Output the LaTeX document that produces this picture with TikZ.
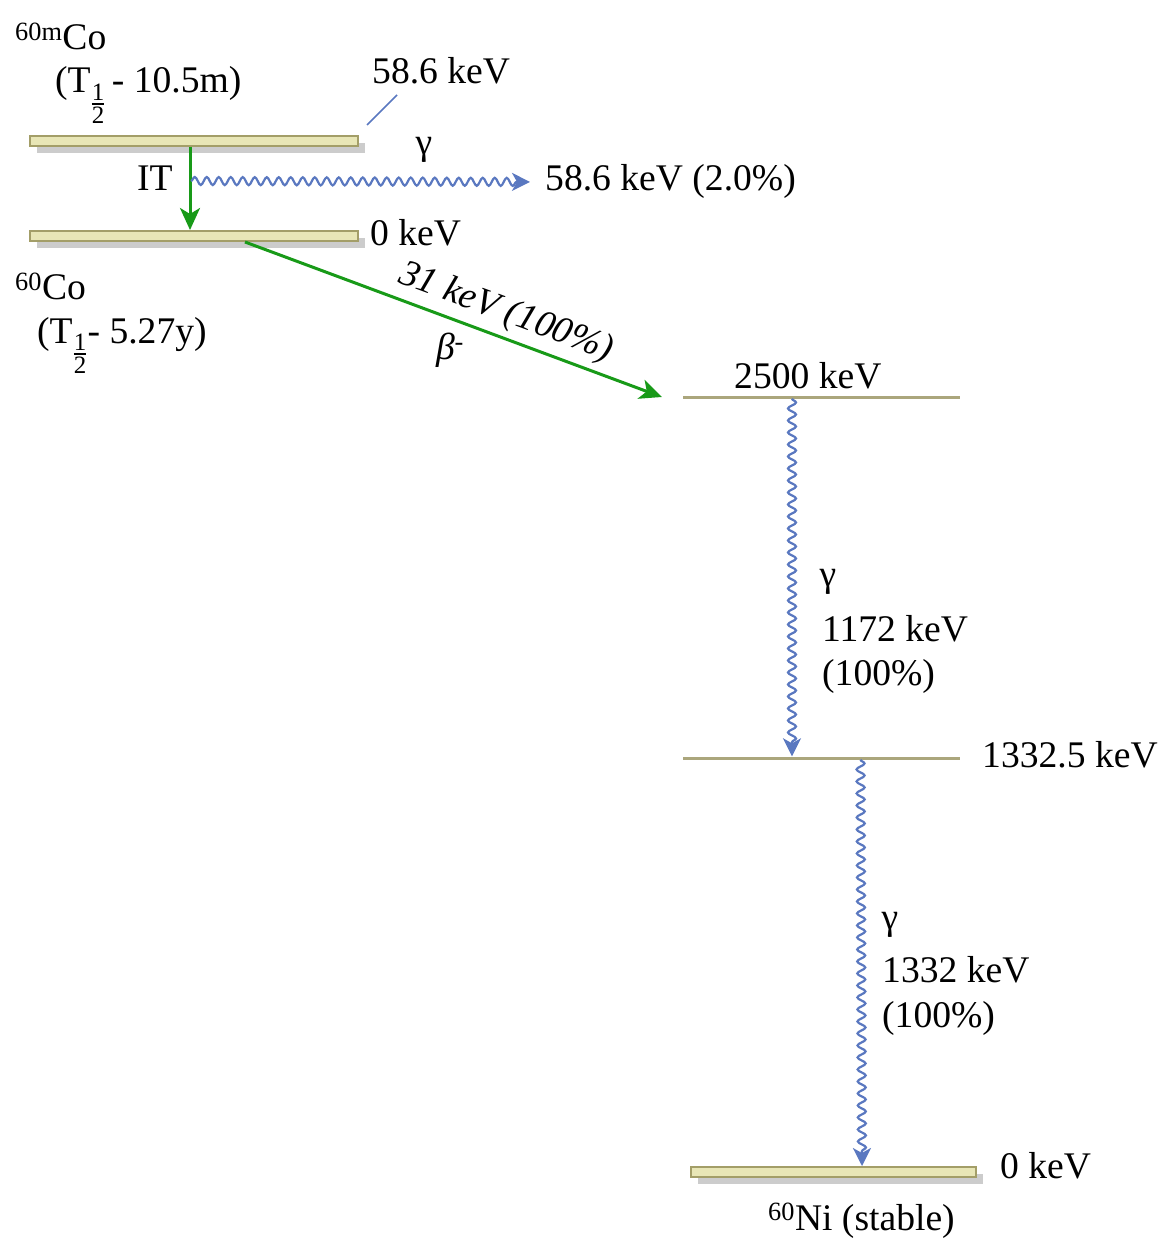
\documentclass[tikz,border=0pt]{standalone}
\usepackage{amsmath}
\usepackage{fontspec}
\setmainfont{Liberation Serif}
\usetikzlibrary{arrows.meta,decorations.pathmorphing,shadows}
\definecolor{barfill}{HTML}{E8E6B6}
\definecolor{barline}{HTML}{A39E68}
\definecolor{levcol}{HTML}{ABA67C}
\definecolor{shade}{HTML}{CCCCCC}
\definecolor{green}{HTML}{189A18}
\definecolor{blue}{HTML}{5A78C0}
\newcommand{\halfsub}{\raisebox{-17pt}{\fontsize{25}{25}\selectfont$\genfrac{}{}{1.8pt}{}{\mbox{1}}{\mbox{2}}$}}

\begin{document}
\begin{tikzpicture}[x=1pt,y=-1pt,
  lbl/.style={inner sep=0pt,font=\fontsize{37.6}{45}\selectfont},
  itlbl/.style={inner sep=0pt,font=\fontsize{37.6}{45}\selectfont\itshape},
  bar/.style={draw=barline,fill=barfill,line width=2pt,minimum height=10pt,inner sep=0pt,
    drop shadow={shadow xshift=7pt,shadow yshift=-7pt,fill=shade,opacity=1}},
  level/.style={fill=levcol,minimum height=3pt,inner sep=0pt},
  beta/.style={-{Stealth[length=22pt,width=20pt,inset=6pt]},line width=3pt,draw=green},
  gam/.style={-{Stealth[length=18pt,width=18pt,inset=5pt]},line width=2.2pt,draw=blue,
    decorate,decoration={snake,amplitude=4pt,segment length=12pt,post length=12pt}}
]
\useasboundingbox (0,0) rectangle (1161,1238);
\node[bar,minimum width=328pt] (cometa) at (194,141) {};
\node[bar,minimum width=328pt] (coground) at (194,236) {};
\node[level,minimum width=277pt] (lev2500) at (821.5,397) {};
\node[level,minimum width=277pt] (lev1332) at (821.5,758) {};
\node[bar,minimum width=285pt] (niground) at (833.5,1172) {};

\node[lbl,anchor=base west] (comname) at (15,50) {\textsuperscript{60m}Co};
\node[lbl,anchor=base west] (comhalf) at (55,93) {(T\halfsub\,- 10.5m)};
\node[lbl,anchor=base west] (comenergy) at (372,84) {58.6 keV};
\node[lbl,anchor=base west] (itlabel) at (137,191) {IT};
\node[lbl] (itgamma) at (424,150) {γ};
\node[lbl,anchor=base west] (gamlabel) at (545,191) {58.6 keV (2.0\%)};
\node[lbl,anchor=base west] (coenergy) at (370,246) {0 keV};
\node[lbl,anchor=base west] (coname) at (15,300) {\textsuperscript{60}Co};
\node[lbl,anchor=base west] (cohalf) at (37,343) {(T\halfsub- 5.27y)};
\node[itlbl,rotate=-20.4] (betaenergy) at (506,313) {31 keV (100\%)};
\node[itlbl] (betaname) at (450,350) {β\textsuperscript{-}};
\node[lbl,anchor=base west] (e2500) at (734,388) {2500 keV};
\node[lbl] (gamone) at (828,582) {γ};
\node[lbl,anchor=base west] (e1172) at (822,641) {1172 keV};
\node[lbl,anchor=base west] (i1172) at (822,685) {(100\%)};
\node[lbl,anchor=base west] (e1332lev) at (982,767) {1332.5 keV};
\node[lbl] (gamtwo) at (890,925) {γ};
\node[lbl,anchor=base west] (e1332) at (882,982) {1332 keV};
\node[lbl,anchor=base west] (i1332) at (882,1027) {(100\%)};
\node[lbl,anchor=base west] (nienergy) at (1000,1178) {0 keV};
\node[lbl,anchor=base west] (niname) at (768,1230) {\textsuperscript{60}Ni (stable)};

\coordinate (leadfoot) at (367,125);
\coordinate (leadtop) at (397,95);
\coordinate (itmid) at (191,181);
\draw[blue,line width=1.5pt] (leadfoot) -- (leadtop);
\draw[beta] ([xshift=-4pt]cometa.south) -- ([xshift=-4pt]coground.north);
\draw[gam] (itmid) -- ([xshift=-15pt]gamlabel.west);
\draw[beta] ([xshift=51pt]coground.south) -- ([xshift=-21pt]lev2500.west);
\draw[gam] ([xshift=-29.5pt]lev2500.south) -- ([xshift=-29.5pt]lev1332.north);
\draw[gam] ([xshift=39pt]lev1332.south) -- ([xshift=28.5pt]niground.north);
\end{tikzpicture}
\end{document}
